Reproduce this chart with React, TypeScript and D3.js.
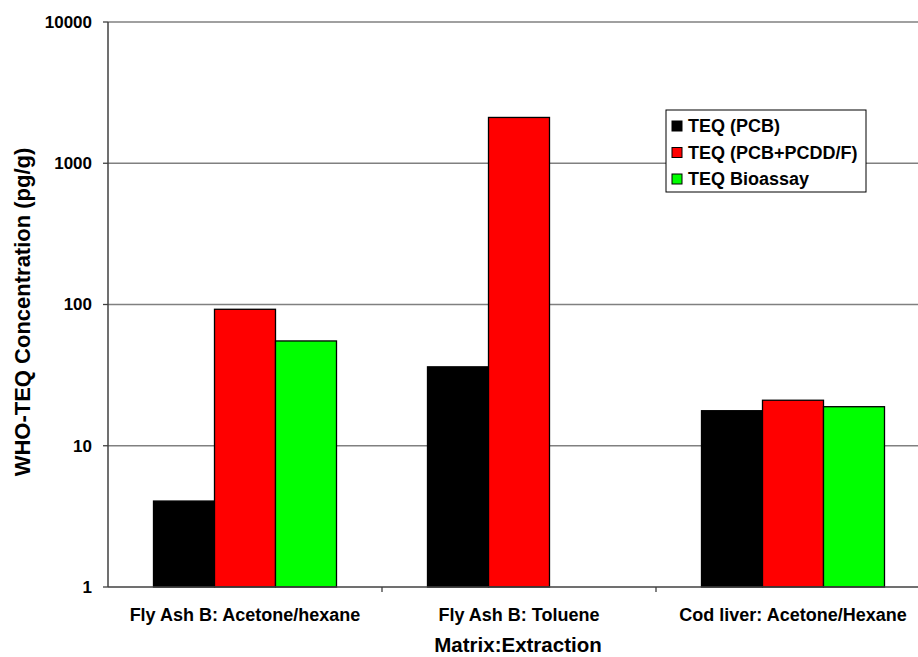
import React from "react";
import * as d3 from "d3";

const categories = ["Fly Ash B: Acetone/hexane", "Fly Ash B: Toluene", "Cod liver: Acetone/Hexane"];
const seriesNames = ["TEQ (PCB)", "TEQ (PCB+PCDD/F)", "TEQ Bioassay"];
const seriesColors = ["#000000", "#ff0000", "#00ff00"];
const pcb = [4.06, 36.2, 17.7];
const pcbPcdd = [92.5, 2110, 21.0];
const bioassay = [55.2, null, 18.9];
const yTicks = [1, 10, 100, 1000, 10000];

export default function App() {
  const W = 918, H = 657;
  const left = 108, top = 22, bottom = 587;
  const catW = 274;
  const right = left + catW * categories.length;
  const x = d3.scaleBand().domain(categories).range([left, right]);
  const y = d3.scaleLog().domain([1, 10000]).range([bottom, top]);
  const series = [pcb, pcbPcdd, bioassay];
  const groupW = 183;
  const xs = d3.scaleBand().domain(["0", "1", "2"]).range([0, groupW]);
  const font = "'Liberation Sans', Arial, sans-serif";
  return (
    <svg width={W} height={H} style={{ position: "absolute", left: 0, top: 0, background: "#fff" }} fontFamily={font}>
      {yTicks.map((t) => (
        <g key={t}>
          {t > 1 && <line x1={left} x2={right} y1={y(t)} y2={y(t)} stroke="#808080" strokeWidth={1.3} />}
          <line x1={left - 5} x2={left} y1={y(t)} y2={y(t)} stroke="#404040" strokeWidth={1.3} />
          <text x={92} y={y(t)} dy="0.35em" textAnchor="end" fontSize={17} fontWeight="bold">{t}</text>
        </g>
      ))}
      {categories.map((c, ci) =>
        series.map((s, si) => {
          const v = s[ci];
          if (v == null) return null;
          const bx = (x(c) as number) + (catW - groupW) / 2 + (xs(String(si)) as number);
          return (
            <rect key={c + si} x={bx} y={y(v)} width={xs.bandwidth()} height={bottom - y(v)}
              fill={seriesColors[si]} stroke="#000" strokeWidth={1.3} />
          );
        })
      )}
      <line x1={left} x2={left} y1={top} y2={bottom} stroke="#404040" strokeWidth={1.5} />
      <line x1={left} x2={right} y1={bottom} y2={bottom} stroke="#404040" strokeWidth={1.5} />
      {categories.map((c, ci) => (
        <g key={c}>
          <line x1={left + catW * (ci + 1)} x2={left + catW * (ci + 1)} y1={bottom} y2={bottom + 5} stroke="#404040" strokeWidth={1.3} />
          <text x={(x(c) as number) + catW / 2} y={615} dy="0.35em" textAnchor="middle" fontSize={18} fontWeight="bold">{c}</text>
        </g>
      ))}
      <text x={518} y={645} dy="0.35em" textAnchor="middle" fontSize={20.5} fontWeight="bold">Matrix:Extraction</text>
      <text transform={`translate(22,312) rotate(-90)`} dy="0.35em" textAnchor="middle" fontSize={22} fontWeight="bold">WHO-TEQ Concentration (pg/g)</text>
      <g>
        <rect x={666} y={110} width={200} height={82} fill="#fff" stroke="#000" strokeWidth={1} />
        {seriesNames.map((n, i) => (
          <g key={n}>
            <rect x={672} y={121 + i * 26.5} width={10} height={10} fill={seriesColors[i]} stroke="#000" strokeWidth={1} />
            <text x={688} y={126 + i * 26.5} dy="0.35em" fontSize={18} fontWeight="bold">{n}</text>
          </g>
        ))}
      </g>
    </svg>
  );
}
